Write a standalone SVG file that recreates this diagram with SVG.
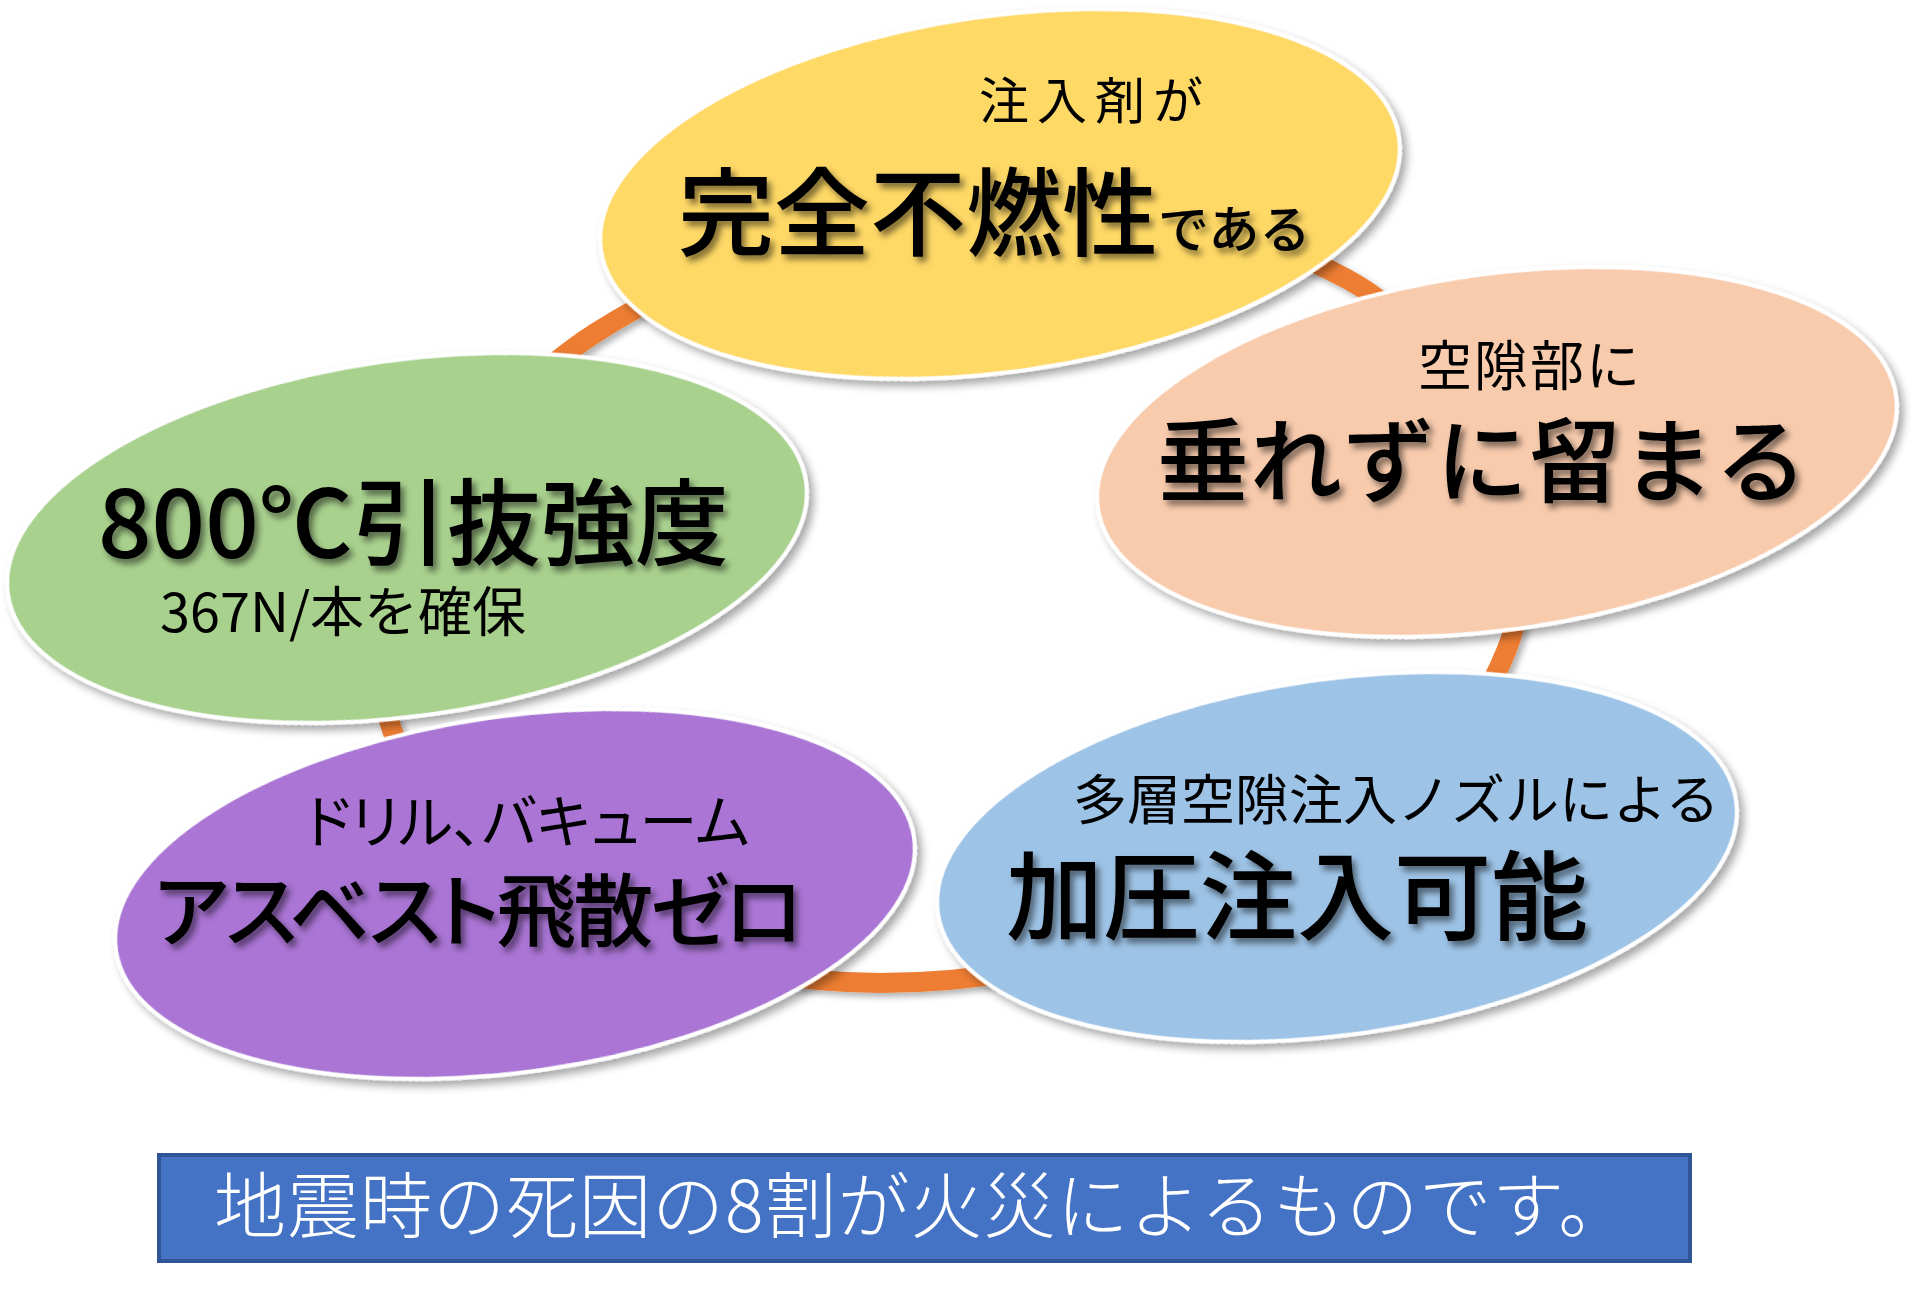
<svg xmlns="http://www.w3.org/2000/svg" width="1920" height="1296" viewBox="0 0 1920 1296">
<style>
  .ell { stroke: #ffffff; stroke-width: 4; filter: url(#sh); }
  .t { font-family: "Noto Sans CJK JP", "Noto Sans", sans-serif; fill: #000; }
  .big { filter: url(#tsh); font-weight: 500; }
  .p { font-feature-settings: "palt" 1; }
  .ring { fill: none; stroke: #ED7D31; stroke-width: 20; filter: url(#rsh); }
</style>
<defs>
  <filter id="sh" x="-10%" y="-15%" width="125%" height="135%">
    <feDropShadow dx="4" dy="6" stdDeviation="4" flood-color="#000" flood-opacity="0.35"/>
  </filter>
  <filter id="rsh" x="-10%" y="-10%" width="125%" height="125%">
    <feDropShadow dx="4" dy="4" stdDeviation="3" flood-color="#000" flood-opacity="0.3"/>
  </filter>
  <filter id="tsh" x="-5%" y="-20%" width="115%" height="150%">
    <feDropShadow dx="4" dy="5" stdDeviation="3" flood-color="#000" flood-opacity="0.5"/>
  </filter>
</defs>
<rect width="1920" height="1296" fill="#ffffff"/>

<g id="connectors">
  <path class="ring" d="M597,332 C807,198 1127,160 1347,279 C1465,343 1556,524 1507,649 C1420,869 1117,983 880,983 C697,983 454,902 392,730 C342,590 472,412 597,332 Z"/>
</g>

<g id="node-yellow">
  <ellipse class="ell" cx="1000" cy="194" rx="403" ry="178" transform="rotate(-8 1000 194)" fill="#FFD966"/>
  <text class="t" x="979" y="119" font-size="50" letter-spacing="8">注入剤が</text>
  <text class="t big" x="678" y="248" font-size="96">完全不燃性<tspan font-size="51">である</tspan></text>
</g>

<g id="node-peach">
  <ellipse class="ell" cx="1497" cy="452" rx="403" ry="178" transform="rotate(-8 1497 452)" fill="#F8CBAD"/>
  <text class="t" x="1418" y="386" font-size="54" letter-spacing="2">空隙部に</text>
  <text class="t big" x="1157" y="495" font-size="92" letter-spacing="1">垂れずに留まる</text>
</g>

<g id="node-green">
  <ellipse class="ell" cx="407" cy="538" rx="403" ry="178" transform="rotate(-8 407 538)" fill="#A9D18E"/>
  <text class="t big" x="98" y="558" font-size="94">800℃引抜強度</text>
  <text class="t" x="160" y="632" font-size="54">367N/本を確保</text>
</g>

<g id="node-purple">
  <ellipse class="ell" cx="515" cy="894" rx="403" ry="178" transform="rotate(-8 515 894)" fill="#AA74D5"/>
  <text class="t p" x="305" y="843" font-size="58">ドリル、バキューム</text>
  <text class="t big p" x="154" y="940" font-size="80" letter-spacing="-3">アスベスト飛散ゼロ</text>
</g>

<g id="node-blue">
  <ellipse class="ell" cx="1337" cy="857" rx="403" ry="178" transform="rotate(-8 1337 857)" fill="#9DC3E6"/>
  <text class="t" x="1073" y="820" font-size="54">多層空隙注入ノズルによる</text>
  <text class="t big" x="1006" y="932" font-size="97">加圧注入可能</text>
</g>

<g id="banner">
  <rect x="159" y="1155" width="1531" height="106" fill="#4472C4" stroke="#2F5597" stroke-width="4"/>
  <text class="t" x="214" y="1232" font-size="72" font-weight="300" letter-spacing="1" style="fill:#ffffff">地震時の死因の8割が火災によるものです。</text>
</g>
</svg>
